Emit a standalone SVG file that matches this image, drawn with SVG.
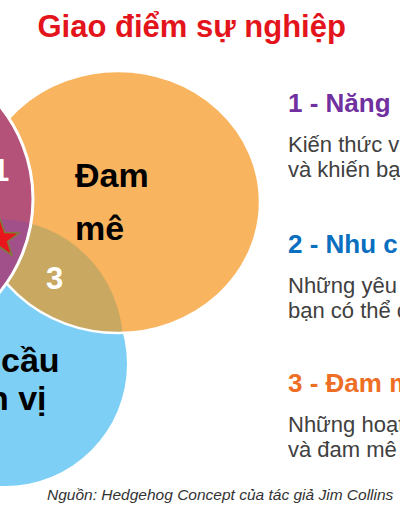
<svg xmlns="http://www.w3.org/2000/svg" width="400" height="516" viewBox="0 0 400 516">
<style>
text{font-family:"Liberation Sans",Arial,sans-serif}
.title{font-weight:bold;font-size:31px;fill:#E3141B}
.big{font-weight:bold;font-size:34px;fill:#000}
.num{font-weight:bold;font-size:31px;fill:#fff}
.h{font-weight:bold;font-size:26px}
.b{font-size:22px;fill:#404040}
.src{font-style:italic;font-size:15.5px;fill:#333}
.edge{fill:none;stroke:#fff}
</style>
<defs>
<clipPath id="cOrange"><ellipse cx="118" cy="202" rx="142" ry="131"/></clipPath>
<clipPath id="cPink"><circle cx="-114" cy="199" r="147"/></clipPath>
</defs>
<rect width="400" height="516" fill="#fff"/>
<g id="title"><text class="title" x="37.5" y="37">Giao điểm sự nghiệp</text></g>
<g id="nhu-cau">
<circle cx="5" cy="364" r="122" fill="#7DCFF5"/>
</g>
<g id="dam-me">
<ellipse cx="118" cy="202" rx="142" ry="131" fill="#F9B45F"/>
<circle cx="-2" cy="344" r="125" fill="#C9A962" clip-path="url(#cOrange)"/>
<ellipse class="edge" cx="118" cy="202" rx="142" ry="131" stroke-width="2.5"/>
</g>
<g id="nang-luc">
<circle cx="-114" cy="199" r="147" fill="#B4527A"/>
<circle cx="-2" cy="344" r="125" fill="#A25089" clip-path="url(#cPink)"/>
<circle class="edge" cx="-114" cy="199" r="147" stroke-width="3"/>
</g>
<g id="star">
<polygon points="0,219 4.7,232.5 19,233 7.6,241.5 11.8,255.2 0,247 -11.8,255.2 -7.6,241.5 -19,233 -4.7,232.5" fill="#E8151D" stroke="#7E7A3C" stroke-width="1.5"/>
</g>
<g id="labels">
<text class="num" x="-8" y="181">1</text>
<text class="num" x="46" y="289">3</text>
<text class="big" x="75" y="187">Đam</text>
<text class="big" x="75" y="240">mê</text>
<text class="big" x="1" y="372">cầu</text>
<text class="big" x="-12" y="410">n vị</text>
</g>
<g id="legend-1">
<text class="h" x="288" y="112" fill="#7030A0">1 - Năng</text>
<text class="b" x="288" y="152">Kiến thức v</text>
<text class="b" x="288" y="177">và khiến bạ</text>
</g>
<g id="legend-2">
<text class="h" x="288" y="253" fill="#0A6FBF">2 - Nhu c</text>
<text class="b" x="288" y="293">Những yêu</text>
<text class="b" x="288" y="318">bạn có thể c</text>
</g>
<g id="legend-3">
<text class="h" x="288" y="392" fill="#EE6E26">3 - Đam m</text>
<text class="b" x="288" y="432">Những hoạt</text>
<text class="b" x="288" y="457">và đam mê</text>
</g>
<g id="source"><text class="src" x="47" y="500">Nguồn: Hedgehog Concept của tác giả Jim Collins</text></g>
</svg>
